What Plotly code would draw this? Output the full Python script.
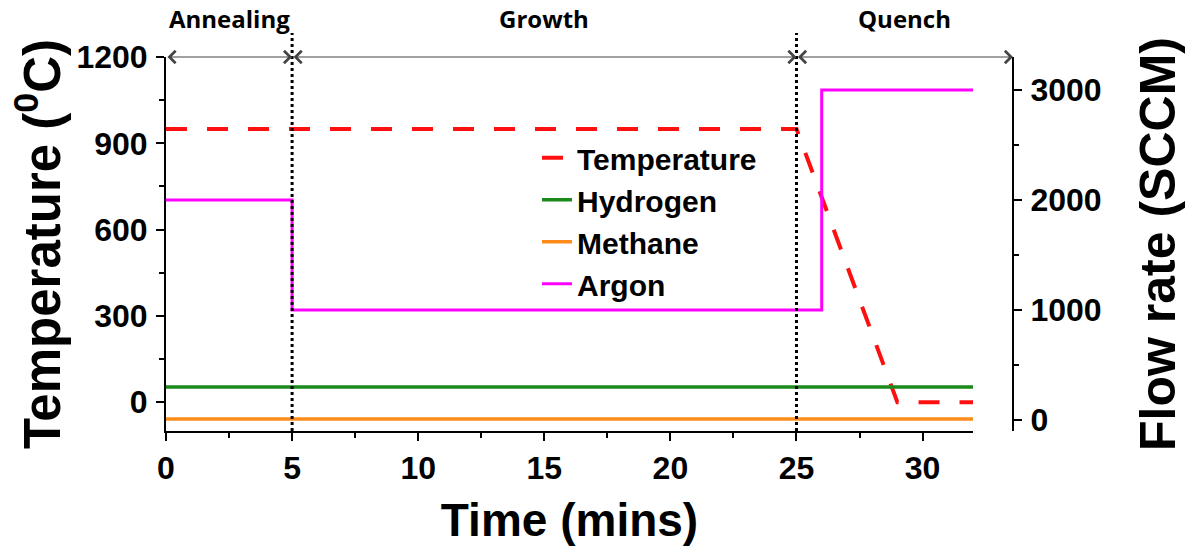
import plotly.graph_objects as go

# ---------------- data ----------------
temp_time = [0, 25, 29, 32]
temp_vals = [950, 950, 0, 0]

flow_time = [0, 32]
hydrogen_vals = [300, 300]
methane_vals = [10, 10]

argon_time = [0, 5, 5, 26, 26, 32]
argon_vals = [2000, 2000, 1000, 1000, 3000, 3000]

phase_names = ["Annealing", "Growth", "Quench"]
phase_starts = [0, 5, 25]

x_range = [0, 32]
y_left_range = [-100, 1200]
y_right_range = [-100, 3300]
x_domain_end = 0.9528

# ---------------- figure ----------------
FONT = "Liberation Sans, Arial, sans-serif"
fig = go.Figure()

fig.add_trace(go.Scatter(x=temp_time, y=temp_vals, name="Temperature", mode="lines",
                         line=dict(color="#FF1010", width=4, dash="21px,20px"), yaxis="y"))
fig.add_trace(go.Scatter(x=flow_time, y=hydrogen_vals, name="Hydrogen", mode="lines",
                         line=dict(color="#1A8A1A", width=3.5), yaxis="y2"))
fig.add_trace(go.Scatter(x=flow_time, y=methane_vals, name="Methane", mode="lines",
                         line=dict(color="#FF8C1A", width=3.5), yaxis="y2"))
fig.add_trace(go.Scatter(x=argon_time, y=argon_vals, name="Argon", mode="lines",
                         line=dict(color="#FF00FF", width=3), yaxis="y2"))

axis_common = dict(showline=True, linecolor="black", linewidth=2, ticks="outside",
                   ticklen=8, tickwidth=2, tickcolor="black", showgrid=False, zeroline=False,
                   tickfont=dict(family=FONT, size=32, color="black", weight="bold"))

x_end_data = x_range[1] / x_domain_end

# phase boundary dotted lines
shapes = []
for xs in phase_starts[1:]:
    shapes.append(dict(type="line", xref="x", yref="paper", x0=xs, x1=xs, y0=0, y1=1.064,
                       line=dict(color="black", width=3, dash="dot")))

# top arrows and labels
annotations = []
edges = phase_starts + [x_end_data]
for i, name in enumerate(phase_names):
    a, b = edges[i], edges[i + 1]
    annotations.append(dict(x=b, y=y_left_range[1], ax=a, ay=y_left_range[1], xref="x", yref="y",
                            axref="x", ayref="y", text="", showarrow=True, arrowside="end+start",
                            arrowhead=4, startarrowhead=4, arrowsize=2, startarrowsize=2,
                            arrowwidth=1.2, arrowcolor="#444"))
    annotations.append(dict(x=(a + b) / 2, y=1, xref="x", yref="paper", yanchor="bottom",
                            yshift=20, text=name, showarrow=False,
                            font=dict(family="Open Sans, sans-serif", size=24, color="black",
                                      weight="bold")))

fig.update_layout(
    width=1196, height=550,
    margin=dict(l=166, r=183, t=57, b=119),
    paper_bgcolor="white", plot_bgcolor="white",
    xaxis=dict(range=x_range, domain=[0, x_domain_end], dtick=5, tick0=0,
               minor=dict(dtick=2.5, ticks="outside", ticklen=5, tickwidth=2, tickcolor="black"),
               title=dict(text="Time (mins)", font=dict(family=FONT, size=46, color="black", weight="bold"),
                          standoff=18),
               **axis_common),
    yaxis=dict(range=y_left_range, dtick=300, tick0=0, ticklabelstandoff=2,
               minor=dict(dtick=150, ticks="outside", ticklen=5, tickwidth=2, tickcolor="black"),
               title=dict(text="Temperature (<sup>0</sup>C)",
                          font=dict(family=FONT, size=51, color="black", weight="bold"), standoff=0),
               **axis_common),
    yaxis2=dict(range=y_right_range, dtick=1000, tick0=0, overlaying="y", side="right",
                anchor="free", position=1.0, ticklabelstandoff=2,
                minor=dict(dtick=500, ticks="outside", ticklen=5, tickwidth=2, tickcolor="black"),
                title=dict(text="Flow rate (SCCM)",
                           font=dict(family=FONT, size=50, color="black", weight="bold"), standoff=38),
                **axis_common),
    legend=dict(x=0.438, y=0.8, xanchor="left", yanchor="top", bgcolor="rgba(0,0,0,0)",
                itemwidth=30, tracegroupgap=0,
                font=dict(family=FONT, size=30, color="black", weight="bold")),
    shapes=shapes,
    annotations=annotations,
    showlegend=True,
)

fig.write_html("out.html")
